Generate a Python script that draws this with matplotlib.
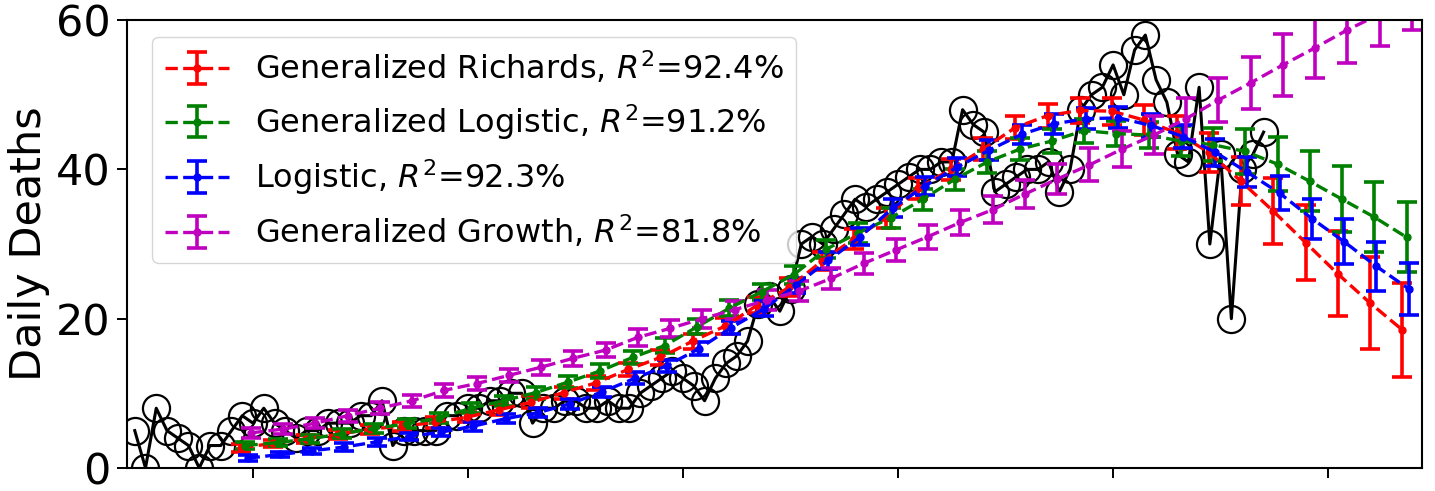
import numpy as np
import matplotlib
matplotlib.use("Agg")
import matplotlib.pyplot as plt

# observed daily deaths, one per day (day 0 = first x tick)
obs_days = list(range(-11, 95))
obs_deaths = [5, 0, 8, 5, 4, 3, 0, 3, 3, 5, 7,
              6, 8, 6, 5, 4, 5, 5, 6, 6, 6,
              7, 7, 9, 3, 5, 5, 5, 5, 7, 7,
              8, 8, 9, 9, 10, 10, 6, 8, 8, 9,
              9, 8, 8, 9, 8, 8, 10, 11, 12, 13,
              12, 11, 9, 12, 14, 15, 17, 22, 23, 21,
              24, 30, 31, 30, 32, 34, 36, 35, 36, 37,
              38, 39, 40, 40, 41, 41, 48, 46, 45, 37,
              38, 39, 40, 40, 41, 37, 40, 48, 50, 51,
              54, 50, 56, 58, 52, 49, 42, 41, 51, 30,
              42, 20, 40, 42, 45]

# model fits, every third day
fit_days = [-0.5 + 3 * k for k in range(37)]

richards = [2.7, 3.3, 3.9, 4.5, 5.2, 5.6, 6.1, 6.8, 7.8, 8.8,
            10.1, 11.4, 13.2, 14.8, 17.0, 19.0, 21.8, 24.2, 27.7, 30.7,
            33.5, 37.5, 40.0, 42.7, 45.6, 47.2, 47.9, 47.8, 46.6, 44.9,
            42.3, 38.4, 34.4, 30.2, 26.0, 22.1, 18.5]
richards_err = [0.5, 0.5, 0.5, 0.6, 0.6, 0.6, 0.7, 0.7, 0.7, 0.8,
                0.8, 0.9, 0.9, 1.0, 1.0, 1.1, 1.1, 1.2, 1.2, 1.3,
                1.3, 1.4, 1.4, 1.5, 1.5, 1.6, 1.7, 1.8, 2.0, 2.2,
                2.6, 3.2, 4.4, 5.0, 5.7, 6.1, 6.3]

gen_logistic = [3.0, 3.4, 3.9, 4.6, 5.3, 5.9, 6.7, 8.0, 9.0, 10.1,
                11.5, 13.0, 14.8, 16.4, 18.9, 21.4, 23.6, 25.9, 29.3, 31.5,
                33.5, 36.0, 38.7, 41.0, 42.7, 43.8, 45.2, 44.8, 44.6, 43.8,
                43.3, 42.4, 40.7, 38.4, 36.0, 33.6, 30.9]
gen_logistic_err = [0.5, 0.5, 0.5, 0.6, 0.6, 0.6, 0.7, 0.7, 0.7, 0.8,
                    0.8, 0.9, 0.9, 1.0, 1.0, 1.1, 1.1, 1.2, 1.2, 1.3,
                    1.3, 1.4, 1.4, 1.5, 1.5, 1.6, 1.6, 1.7, 1.8, 2.0,
                    2.2, 3.0, 3.6, 4.0, 4.4, 4.7, 4.7]

logistic = [1.3, 1.8, 2.3, 2.8, 3.5, 4.2, 4.8, 5.6, 6.6, 7.4,
            8.6, 10.2, 12.0, 13.7, 16.0, 18.8, 21.3, 24.5, 27.8, 31.0,
            34.8, 37.8, 40.3, 42.6, 44.7, 46.1, 46.8, 46.9, 45.9, 44.4,
            42.3, 39.6, 36.8, 33.4, 30.3, 27.0, 24.0]
logistic_err = [0.4, 0.4, 0.4, 0.5, 0.5, 0.5, 0.5, 0.6, 0.6, 0.6,
                0.7, 0.7, 0.8, 0.8, 0.9, 0.9, 1.0, 1.0, 1.1, 1.1,
                1.2, 1.2, 1.2, 1.3, 1.3, 1.3, 1.4, 1.4, 1.5, 1.6,
                1.8, 2.0, 2.3, 2.7, 3.0, 3.3, 3.5]

gen_growth = [4.7, 5.2, 6.0, 7.0, 8.0, 9.0, 10.4, 11.3, 12.4, 13.5,
              14.7, 15.8, 17.5, 18.7, 20.0, 21.2, 22.5, 23.7, 25.4, 27.4,
              29.2, 31.0, 32.9, 34.6, 36.7, 38.7, 40.6, 42.7, 44.6, 46.8,
              49.3, 51.6, 54.0, 56.3, 58.7, 60.8, 63.3]
gen_growth_err = [0.7, 0.7, 0.7, 0.8, 0.8, 0.8, 0.9, 0.9, 0.9, 1.0,
                  1.0, 1.0, 1.1, 1.1, 1.2, 1.2, 1.3, 1.3, 1.4, 1.4,
                  1.5, 1.6, 1.7, 1.8, 1.9, 2.0, 2.2, 2.4, 2.6, 2.8,
                  3.0, 3.5, 4.2, 4.0, 4.4, 4.3, 4.6]

models = [
    ("Generalized Richards, $R^2$=92.4%", richards, richards_err, "r", -0.6),
    ("Generalized Logistic, $R^2$=91.2%", gen_logistic, gen_logistic_err, "g", -0.2),
    ("Logistic, $R^2$=92.3%", logistic, logistic_err, "b", 0.0),
    ("Generalized Growth, $R^2$=81.8%", gen_growth, gen_growth_err, "m", 0.3),
]

fig = plt.figure(figsize=(14.35, 4.91), dpi=100)
ax = fig.add_axes([0.0885, 0.047, 0.9025, 0.912])

ax.plot(obs_days, obs_deaths, "k-", lw=2.2, marker="o", ms=19.5,
        mfc="none", mec="k", mew=1.6)

for label, vals, err, col, shift in models:
    x = np.array(fit_days) + shift
    ax.errorbar(x, vals, yerr=err, fmt="--", color=col, marker="o", ms=5,
                lw=2.4, elinewidth=2.6, capsize=7, capthick=2.6, label=label)

ax.set_xlim(-11.72, 108.74)
ax.set_ylim(0, 60)
ax.set_xticks([0, 20, 40, 60, 80, 100])
ax.set_xticklabels([])
ax.set_yticks([0, 20, 40, 60])
ax.tick_params(axis="both", labelsize=31, length=7, width=1.4, direction="out", pad=5)
ax.set_ylabel("Daily Deaths", fontsize=31)
for s in ax.spines.values():
    s.set_linewidth(1.5)

ax.legend(loc="upper left", fontsize=23, bbox_to_anchor=(0.0073, 0.999))

plt.savefig("out.png", dpi=100)
